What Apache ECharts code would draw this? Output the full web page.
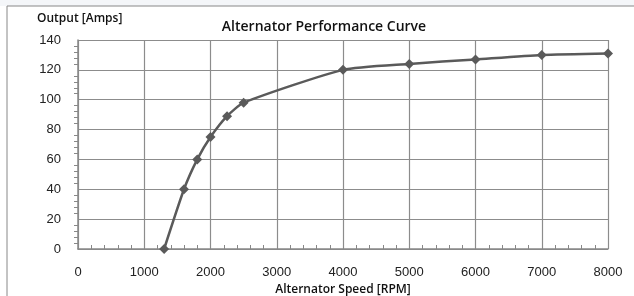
<!DOCTYPE html>
<html>
<head>
<meta charset="utf-8">
<script src="https://cdn.jsdelivr.net/npm/echarts@6/dist/echarts.min.js"></script>
<style>
  html, body { margin: 0; padding: 0; background: #fff; }
  #chart { width: 634px; height: 296px; }
</style>
</head>
<body>
<div id="chart"></div>
<script>
// alternator speed (rpm) and output (amps)
var speeds = [1300, 1600, 1800, 2000, 2250, 2500, 4000, 5000, 6000, 7000, 8000];
var amps = [0, 40, 60, 75, 89, 98, 120, 124, 127, 130, 131];

var points = speeds.map(function (s, i) { return [s, amps[i]]; });

var box = echarts.init(document.getElementById('chart'));

var option = {
    backgroundColor: '#fff',
    animation: false,
    title: {
        text: 'Alternator Performance Curve',
        left: 319,
        top: 15,
        textAlign: 'center',
        textStyle: {
            fontFamily: 'Open Sans',
            fontSize: 14,
            fontWeight: 600,
            color: '#111'
        }
    },
    graphic: [
        {
            type: 'rect',
            shape: { x: 0, y: 0, width: 634, height: 6 },
            style: { fill: '#f4f6f9' },
            silent: true
        },
        {
            type: 'rect',
            shape: { x: 7, y: 6, width: 640, height: 300 },
            style: { fill: 'none', stroke: '#888', lineWidth: 1 },
            silent: true
        },
        {
            type: 'text',
            left: 37,
            top: 13,
            style: {
                text: 'Output [Amps]',
                font: '600 12px "Open Sans"',
                fill: '#111'
            }
        }
    ],
    grid: {
        left: 78,
        right: 26,
        top: 40,
        bottom: 47,
        outerBoundsMode: 'none'
    },
    xAxis: {
        type: 'value',
        min: 0,
        max: 8000,
        interval: 1000,
        name: 'Alternator Speed [RPM]',
        nameLocation: 'middle',
        nameGap: 33,
        nameTextStyle: {
            fontFamily: 'Open Sans',
            fontSize: 12,
            fontWeight: 600,
            color: '#111'
        },
        axisLine: { lineStyle: { color: '#888', width: 1.5 } },
        axisTick: { show: false, inside: true },
        minorTick: { show: true, splitNumber: 5, length: 4, lineStyle: { color: '#888' } },
        axisLabel: {
            fontFamily: 'Liberation Sans', fontSize: 13, color: '#222', margin: 17,
            formatter: function (v) { return String(v); }
        },
        splitLine: { show: true, lineStyle: { color: '#8c8c8c', width: 1.2 } }
    },
    yAxis: {
        type: 'value',
        min: 0,
        max: 140,
        interval: 20,
        axisLine: { show: true, lineStyle: { color: '#888', width: 1.5 } },
        axisTick: { show: false },
        minorTick: { show: true, splitNumber: 5, length: 4, lineStyle: { color: '#888' } },
        axisLabel: { fontFamily: 'Liberation Sans', fontSize: 13, color: '#222', margin: 17 },
        splitLine: { show: true, lineStyle: { color: '#8c8c8c', width: 1.2 } }
    },
    series: [
        {
            type: 'line',
            data: points,
            smooth: 0.2,
            symbol: 'diamond',
            symbolSize: 10,
            lineStyle: { color: '#5a5a5a', width: 2.5 },
            itemStyle: { color: '#5a5a5a' }
        }
    ]
};
box.setOption(option);
</script>
</body>
</html>
